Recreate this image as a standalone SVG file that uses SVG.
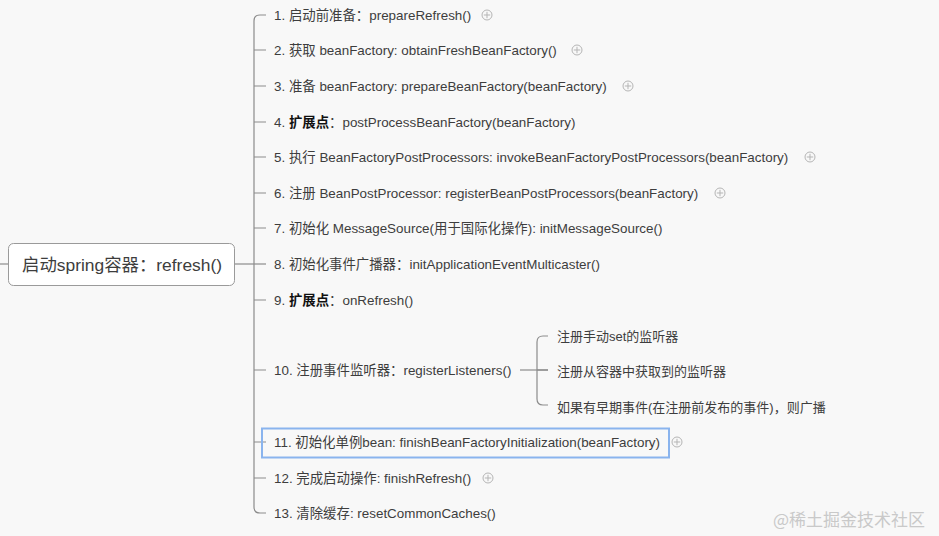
<svg xmlns="http://www.w3.org/2000/svg" width="939" height="536" viewBox="0 0 939 536">
<style>
.t{font-family:"Liberation Sans","Noto Sans CJK SC",sans-serif;font-size:13.4px;fill:#3d3d3d}
.s{font-size:13px}
.b{font-weight:bold;fill:#111}
.ln{fill:none;stroke:#8c8c8c;stroke-width:1.2}
.pl{fill:none;stroke:#b5b5b5;stroke-width:1}
</style>
<defs>
<g id="plus"><circle class="pl" r="5"/><path class="pl" d="M-3.2 0H3.2M0 -3.2V3.2"/></g>
</defs>
<rect width="939" height="536" fill="#f8f8f8"/>
<g id="connectors">
<path class="ln" d="M0 264H8"/>
<path class="ln" d="M234 264H266"/>
<path class="ln" d="M266 15H260Q254 15 254 21V507Q254 513 260 513H266"/>
<path class="ln" d="M254 50H266M254 86H266M254 122H266M254 157H266M254 193H266M254 228H266M254 300H266M254 370H266M254 442H266M254 478H266"/>
<path class="ln" d="M520 370H548"/>
<path class="ln" d="M548 336H543Q537 336 537 342V399Q537 405 543 405H548"/>
<path class="ln" d="M537 370H548"/>
</g>
<g id="root">
<rect x="8.5" y="243.5" width="226" height="42" rx="5" fill="#fff" stroke="#9a9a9a" stroke-width="1"/>
<text x="22" y="271" class="t" style="font-size:17.4px">启动spring容器：refresh()</text>
</g>
<g id="n1"><text x="274" y="20" class="t">1. 启动前准备：prepareRefresh()</text><use href="#plus" x="487" y="15"/></g>
<g id="n2"><text x="274" y="55" class="t">2. 获取 beanFactory: obtainFreshBeanFactory()</text><use href="#plus" x="577" y="50"/></g>
<g id="n3"><text x="274" y="91" class="t">3. 准备 beanFactory: prepareBeanFactory(beanFactory)</text><use href="#plus" x="628" y="86"/></g>
<g id="n4"><text x="274" y="127" class="t">4. <tspan class="b">扩展点</tspan>：postProcessBeanFactory(beanFactory)</text></g>
<g id="n5"><text x="274" y="162" class="t">5. 执行 BeanFactoryPostProcessors: invokeBeanFactoryPostProcessors(beanFactory)</text><use href="#plus" x="810" y="157"/></g>
<g id="n6"><text x="274" y="198" class="t">6. 注册 BeanPostProcessor: registerBeanPostProcessors(beanFactory)</text><use href="#plus" x="720" y="193"/></g>
<g id="n7"><text x="274" y="233" class="t">7. 初始化 MessageSource(用于国际化操作): initMessageSource()</text></g>
<g id="n8"><text x="274" y="269" class="t">8. 初始化事件广播器：initApplicationEventMulticaster()</text></g>
<g id="n9"><text x="274" y="305" class="t">9. <tspan class="b">扩展点</tspan>：onRefresh()</text></g>
<g id="n10"><text x="274" y="375" class="t">10. 注册事件监听器：registerListeners()</text></g>
<g id="n10a"><text x="557" y="341" class="t s">注册手动set的监听器</text></g>
<g id="n10b"><text x="557" y="376" class="t s">注册从容器中获取到的监听器</text></g>
<g id="n10c"><text x="557" y="412" class="t s">如果有早期事件(在注册前发布的事件)，则广播</text></g>
<g id="n11"><rect x="262" y="428.5" width="407" height="29" fill="none" stroke="#8ab4ee" stroke-width="2"/><text x="274" y="447" class="t">11. 初始化单例bean: finishBeanFactoryInitialization(beanFactory)</text><use href="#plus" x="677" y="442"/></g>
<g id="n12"><text x="274" y="483" class="t">12. 完成启动操作: finishRefresh()</text><use href="#plus" x="488" y="478"/></g>
<g id="n13"><text x="274" y="518" class="t">13. 清除缓存: resetCommonCaches()</text></g>
<text x="773" y="526" style="font-family:'Noto Sans CJK SC',sans-serif;font-size:17px;fill:#c9c9c9">@稀土掘金技术社区</text>
</svg>
